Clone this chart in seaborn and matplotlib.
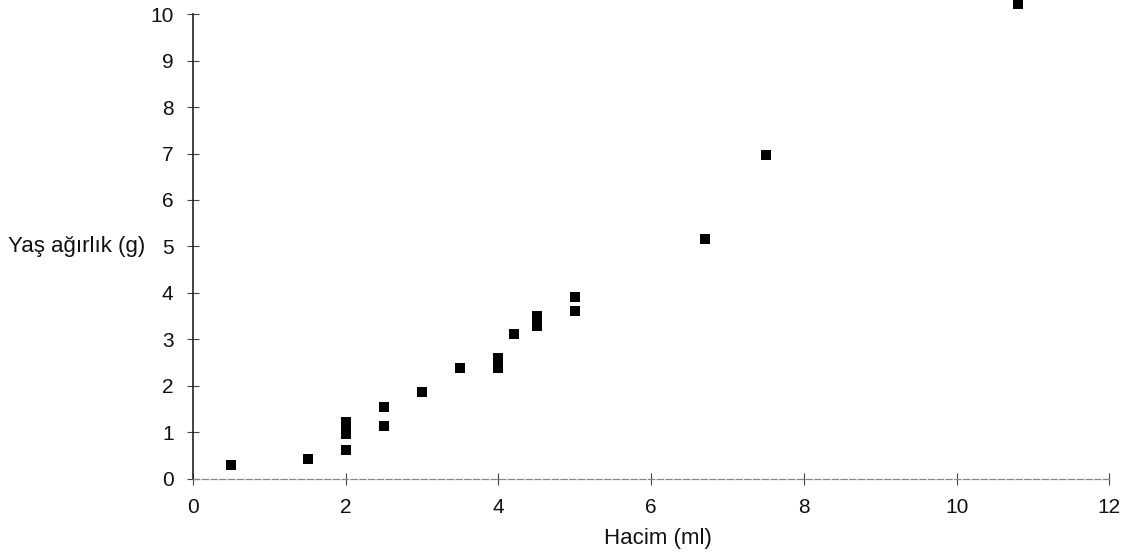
import matplotlib
matplotlib.use("Agg")
import matplotlib.pyplot as plt
import seaborn as sns
import pandas as pd

# volume (ml) vs wet weight (g)
hacim = [0.5, 1.5, 2, 2, 2, 2, 2.5, 2.5, 3, 3.5, 4, 4, 4.2, 4.5, 4.5, 4.5, 5, 5, 6.7, 7.5, 10.8]
yas = [0.3, 0.43, 0.62, 0.97, 1.1, 1.23, 1.14, 1.55, 1.87, 2.38, 2.38, 2.6, 3.12, 3.3, 3.4, 3.5, 3.61, 3.91, 5.16, 6.97, 10.22]
x_ticks = [0, 2, 4, 6, 8, 10, 12]
y_ticks = [0, 1, 2, 3, 4, 5, 6, 7, 8, 9, 10]

df = pd.DataFrame({"hacim": hacim, "yas": yas})

sns.set_style("white")
plt.rcParams["font.family"] = ["Liberation Sans", "DejaVu Sans"]

fig = plt.figure(figsize=(11.37, 5.58), dpi=100)
ax = fig.add_axes([0.1697, 0.1416, 0.806, 0.8333])

sns.scatterplot(data=df, x="hacim", y="yas", marker="s", s=42, color="black",
                linewidth=0, ax=ax, clip_on=False, zorder=3)

ax.set_xlim(0, 12)
ax.set_ylim(0, 10)
ax.set_xticks(x_ticks)
ax.set_yticks(y_ticks)

sns.despine(ax=ax)
ax.spines["left"].set_color("#222222")
ax.spines["left"].set_linewidth(1.2)
ax.spines["bottom"].set_color("#888888")
ax.spines["bottom"].set_linewidth(0.9)
ax.spines["bottom"].set_linestyle((0, (5, 2)))

ax.tick_params(axis="both", direction="inout", length=8, width=0.8,
               bottom=True, left=True,
               colors="#444444", labelcolor="#111111", labelsize=15)
ax.tick_params(axis="y", pad=10)
ax.tick_params(axis="x", pad=10)

ax.set_xlabel("Hacim (ml)", fontsize=16, color="#111111", va="center")
ax.set_ylabel("Yaş ağırlık (g)", fontsize=16, color="#111111", rotation=0,
              ha="right", va="center")
ax.xaxis.set_label_coords(0.507, -0.129)
ax.yaxis.set_label_coords(-0.052, 0.5)

fig.savefig("out.png", dpi=100)
